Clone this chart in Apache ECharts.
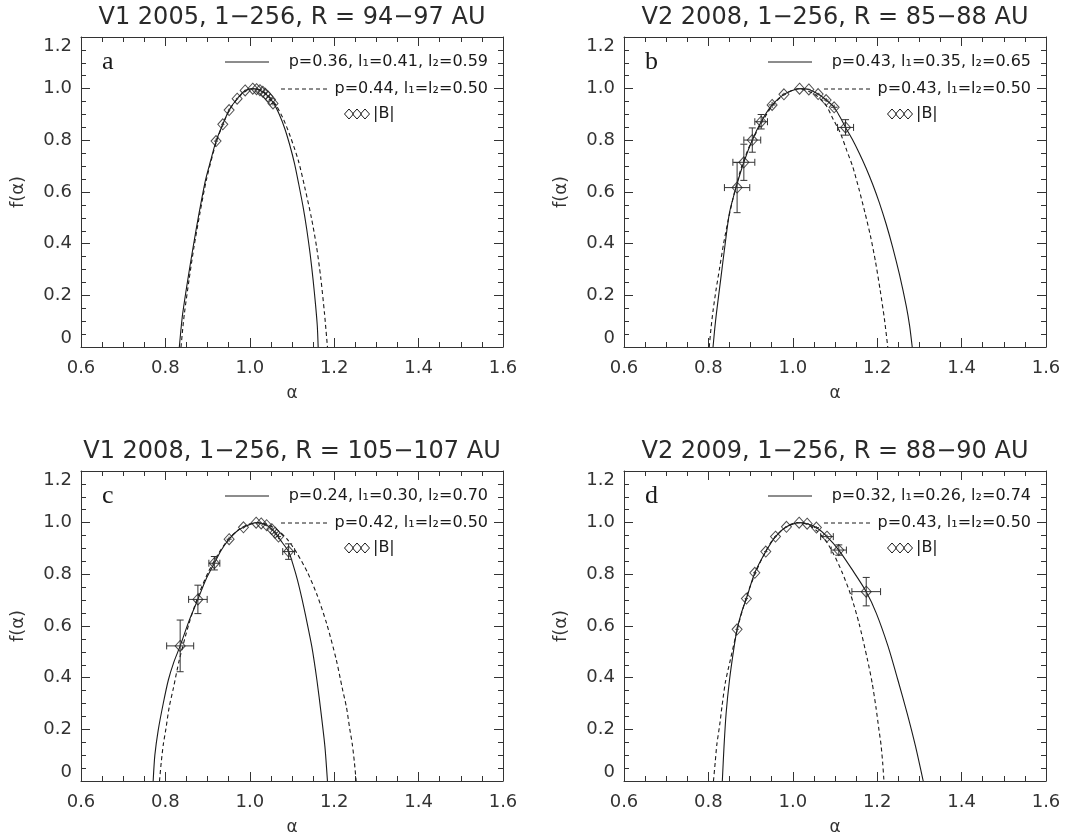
<!DOCTYPE html>
<html><head><meta charset="utf-8">
<script src="https://cdn.jsdelivr.net/npm/echarts@6/dist/echarts.min.js"></script>
<style>html,body{margin:0;padding:0;background:#fff}#c{width:1086px;height:840px}</style>
</head><body><div id="c"></div>
<script>
// ---------- text ----------
const titles = ['V1 2005, 1\u2212256, R = 94\u221297 AU', 'V2 2008, 1\u2212256, R = 85\u221288 AU',
                'V1 2008, 1\u2212256, R = 105\u2212107 AU', 'V2 2009, 1\u2212256, R = 88\u221290 AU'];
const letters = ['a', 'b', 'c', 'd'];
const solidLabels = ['p=0.36, l\u2081=0.41, l\u2082=0.59', 'p=0.43, l\u2081=0.35, l\u2082=0.65',
                     'p=0.24, l\u2081=0.30, l\u2082=0.70', 'p=0.32, l\u2081=0.26, l\u2082=0.74'];
const dashedLabels = ['p=0.44, l\u2081=l\u2082=0.50', 'p=0.43, l\u2081=l\u2082=0.50',
                      'p=0.42, l\u2081=l\u2082=0.50', 'p=0.43, l\u2081=l\u2082=0.50'];
const dataLabel = '|B|';
const xTickLabels = ['0.6', '0.8', '1.0', '1.2', '1.4', '1.6'];
const yTickLabels = ['0', '0.2', '0.4', '0.6', '0.8', '1.0', '1.2'];

// ---------- model curves [alpha, f(alpha)] ----------
const aSolid = [[0.833,0],[0.837,0.07],[0.841,0.13],[0.853,0.26],[0.866,0.39],[0.880,0.52],[0.895,0.646],[0.907,0.72],[0.920,0.797],[0.936,0.862],[0.951,0.917],[0.970,0.961],[0.989,0.993],[1.007,1.0],[1.024,0.994],[1.040,0.976],[1.056,0.945],[1.070,0.90],[1.083,0.845],[1.095,0.78],[1.106,0.71],[1.116,0.63],[1.126,0.545],[1.135,0.455],[1.143,0.36],[1.150,0.26],[1.156,0.16],[1.160,0.08],[1.162,0]];
const aDashed = [[0.837,0],[0.841,0.07],[0.845,0.13],[0.856,0.26],[0.868,0.39],[0.882,0.52],[0.897,0.646],[0.920,0.79],[0.941,0.881],[0.958,0.934],[0.976,0.971],[0.993,0.993],[1.010,1.0],[1.028,0.993],[1.045,0.971],[1.063,0.934],[1.080,0.881],[1.096,0.815],[1.115,0.722],[1.130,0.62],[1.146,0.50],[1.158,0.39],[1.168,0.27],[1.177,0.13],[1.184,0]];
const bSolid = [[0.811,0],[0.815,0.07],[0.819,0.13],[0.829,0.26],[0.839,0.39],[0.850,0.52],[0.866,0.62],[0.884,0.715],[0.904,0.801],[0.925,0.872],[0.951,0.937],[0.979,0.978],[1.016,1.0],[1.038,0.997],[1.060,0.979],[1.079,0.956],[1.098,0.928],[1.112,0.89],[1.125,0.85],[1.141,0.804],[1.157,0.752],[1.173,0.695],[1.189,0.631],[1.205,0.559],[1.221,0.477],[1.237,0.384],[1.253,0.279],[1.269,0.157],[1.277,0.08],[1.283,0]];
const bDashed = [[0.802,0],[0.806,0.07],[0.811,0.14],[0.818,0.22],[0.826,0.3],[0.836,0.4],[0.848,0.5],[0.862,0.6],[0.879,0.7],[0.898,0.78],[0.925,0.865],[0.952,0.935],[0.980,0.978],[1.015,1.0],[1.050,0.98],[1.077,0.94],[1.096,0.881],[1.113,0.827],[1.128,0.76],[1.142,0.698],[1.157,0.61],[1.171,0.52],[1.184,0.43],[1.196,0.33],[1.207,0.22],[1.217,0.11],[1.225,0]];
const cSolid = [[0.771,0],[0.775,0.10],[0.783,0.197],[0.795,0.301],[0.807,0.391],[0.820,0.46],[0.835,0.523],[0.856,0.62],[0.877,0.703],[0.896,0.78],[0.916,0.843],[0.933,0.895],[0.951,0.936],[0.968,0.965],[0.985,0.982],[1.015,1.0],[1.040,0.99],[1.060,0.961],[1.076,0.925],[1.092,0.888],[1.103,0.835],[1.113,0.778],[1.123,0.71],[1.132,0.642],[1.147,0.52],[1.159,0.391],[1.169,0.262],[1.178,0.133],[1.184,0]];
const cDashed = [[0.786,0],[0.790,0.07],[0.795,0.141],[0.801,0.20],[0.809,0.286],[0.819,0.36],[0.833,0.469],[0.856,0.61],[0.879,0.722],[0.902,0.81],[0.926,0.881],[0.949,0.935],[0.972,0.971],[0.995,0.993],[1.019,1.0],[1.042,0.993],[1.066,0.971],[1.089,0.935],[1.112,0.881],[1.136,0.81],[1.159,0.722],[1.182,0.61],[1.205,0.469],[1.219,0.36],[1.229,0.286],[1.237,0.20],[1.243,0.141],[1.248,0.07],[1.252,0]];
const dSolid = [[0.833,0],[0.837,0.133],[0.842,0.262],[0.850,0.391],[0.861,0.52],[0.868,0.587],[0.878,0.65],[0.890,0.706],[0.910,0.806],[0.936,0.888],[0.959,0.946],[0.985,0.984],[1.015,1.0],[1.034,0.996],[1.056,0.981],[1.081,0.946],[1.109,0.894],[1.140,0.82],[1.174,0.733],[1.198,0.649],[1.226,0.52],[1.249,0.391],[1.271,0.262],[1.291,0.133],[1.309,0]];
const dDashed = [[0.812,0],[0.816,0.07],[0.820,0.141],[0.827,0.22],[0.832,0.286],[0.840,0.38],[0.852,0.469],[0.872,0.61],[0.892,0.722],[0.913,0.811],[0.933,0.881],[0.953,0.935],[0.974,0.971],[0.994,0.993],[1.014,1.0],[1.035,0.993],[1.055,0.971],[1.076,0.935],[1.096,0.881],[1.116,0.811],[1.137,0.722],[1.157,0.61],[1.177,0.469],[1.188,0.38],[1.197,0.286],[1.204,0.2],[1.209,0.141],[1.213,0.07],[1.216,0]];

// ---------- |B| data: alpha, f, error in alpha, error in f ----------
const aAlpha = [0.920,0.936,0.951,0.970,0.989,1.007,1.016,1.024,1.031,1.037,1.043,1.049,1.055];
const aF     = [0.797,0.862,0.917,0.961,0.993,1.000,0.998,0.994,0.988,0.980,0.970,0.958,0.943];
const aErrA  = [0.005,0.004,0.003,0.003,0.002,0.002,0.002,0.002,0.003,0.003,0.003,0.004,0.005];
const aErrF  = [0.010,0.008,0.006,0.004,0.003,0.002,0.002,0.002,0.003,0.004,0.005,0.006,0.008];
const bAlpha = [0.868,0.884,0.904,0.925,0.951,0.979,1.016,1.038,1.060,1.079,1.098,1.125];
const bF     = [0.617,0.715,0.801,0.872,0.937,0.978,1.000,0.997,0.979,0.956,0.928,0.850];
const bErrA  = [0.030,0.026,0.020,0.015,0.008,0.005,0.003,0.004,0.005,0.006,0.008,0.019];
const bErrF  = [0.097,0.070,0.047,0.028,0.012,0.006,0.002,0.003,0.005,0.008,0.010,0.030];
const cAlpha = [0.835,0.877,0.916,0.951,0.985,1.015,1.027,1.040,1.052,1.060,1.068,1.092];
const cF     = [0.523,0.703,0.843,0.936,0.982,1.000,0.997,0.990,0.975,0.961,0.946,0.888];
const cErrA  = [0.032,0.022,0.013,0.006,0.004,0.003,0.003,0.004,0.005,0.005,0.006,0.014];
const cErrF  = [0.100,0.055,0.026,0.010,0.005,0.002,0.003,0.004,0.006,0.008,0.010,0.030];
const dAlpha = [0.868,0.890,0.910,0.936,0.959,0.985,1.015,1.034,1.056,1.081,1.109,1.174];
const dF     = [0.587,0.706,0.806,0.888,0.946,0.984,1.000,0.996,0.981,0.946,0.894,0.733];
const dErrA  = [0.004,0.004,0.004,0.004,0.003,0.003,0.003,0.004,0.006,0.015,0.018,0.034];
const dErrF  = [0.010,0.008,0.006,0.005,0.004,0.003,0.002,0.003,0.005,0.008,0.020,0.055];

// ---------- assembly ----------
const curves = [[aSolid,aDashed],[bSolid,bDashed],[cSolid,cDashed],[dSolid,dDashed]];
const points = [[aAlpha,aF,aErrA,aErrF],[bAlpha,bF,bErrA,bErrF],[cAlpha,cF,cErrA,cErrF],[dAlpha,dF,dErrA,dErrF]];

const W = 422, H = 310;
const grids = [{left:81,top:37},{left:624,top:37},{left:81,top:471},{left:624,top:471}];
const INK = '#1a1a1a', AX = '#333';
const FONT = 'DejaVu Sans';

const chart = echarts.init(document.getElementById('c'), null, {renderer:'canvas'});

const option = {
  backgroundColor:'#fff',
  animation:false,
  title:[], grid:[], xAxis:[], yAxis:[], series:[], graphic:[]
};

function fmtX(v){ const i = Math.round((v-0.6)/0.2); return xTickLabels[i] ?? ''; }
function fmtY(v){ const i = Math.round(v/0.2); return yTickLabels[i] ?? ''; }

function errItem(params, api){
  const a=api.value(0), f=api.value(1), da=api.value(2), df=api.value(3);
  const L=api.coord([a-da,f]), R=api.coord([a+da,f]), T=api.coord([a,f+df]), B=api.coord([a,f-df]);
  const st={stroke:'#333', lineWidth:1};
  const cap=3.5, ch=[];
  ch.push({type:'line', shape:{x1:L[0],y1:L[1],x2:R[0],y2:R[1]}, style:st});
  ch.push({type:'line', shape:{x1:T[0],y1:T[1],x2:B[0],y2:B[1]}, style:st});
  if (R[0]-L[0] > 8){
    ch.push({type:'line', shape:{x1:L[0],y1:L[1]-cap,x2:L[0],y2:L[1]+cap}, style:st});
    ch.push({type:'line', shape:{x1:R[0],y1:R[1]-cap,x2:R[0],y2:R[1]+cap}, style:st});
  }
  if (B[1]-T[1] > 8){
    ch.push({type:'line', shape:{x1:T[0]-cap,y1:T[1],x2:T[0]+cap,y2:T[1]}, style:st});
    ch.push({type:'line', shape:{x1:B[0]-cap,y1:B[1],x2:B[0]+cap,y2:B[1]}, style:st});
  }
  return {type:'group', children:ch};
}

grids.forEach((g,i)=>{
  option.grid.push({left:g.left, top:g.top, width:W, height:H, containLabel:false});
  const common = {
    type:'value', gridIndex:i, min:0.6, max:1.6, interval:0.2,
    splitLine:{show:false},
    axisLine:{show:true, onZero:false, lineStyle:{color:AX, width:1}},
    axisTick:{show:true, inside:true, length:9, lineStyle:{color:AX}},
    minorTick:{show:true, splitNumber:4, length:5, lineStyle:{color:AX}},
  };
  option.xAxis.push(Object.assign({}, common, {
    position:'bottom',
    axisLabel:{show:true, formatter:fmtX, fontFamily:FONT, fontSize:18, color:AX, margin:12},
    name:'\u03b1', nameLocation:'middle', nameGap:38,
    nameTextStyle:{fontFamily:FONT, fontSize:17, color:AX}
  }));
  option.xAxis.push(Object.assign({}, common, {position:'top', axisLabel:{show:false}}));
  const ycommon = {
    type:'value', gridIndex:i, min:0, max:1.2, interval:0.2,
    splitLine:{show:false},
    axisLine:{show:true, onZero:false, lineStyle:{color:AX, width:1}},
    axisTick:{show:true, inside:true, length:9, lineStyle:{color:AX}},
    minorTick:{show:true, splitNumber:4, length:5, lineStyle:{color:AX}},
  };
  option.yAxis.push(Object.assign({}, ycommon, {
    position:'left',
    axisLabel:{show:true, formatter:fmtY, fontFamily:FONT, fontSize:18, color:AX, margin:9,
               verticalAlignMaxLabel:'top', verticalAlignMinLabel:'bottom'},
    name:'f(\u03b1)', nameLocation:'middle', nameGap:54, nameRotate:90,
    nameTextStyle:{fontFamily:FONT, fontSize:18, color:AX}
  }));
  option.yAxis.push(Object.assign({}, ycommon, {position:'right', axisLabel:{show:false}}));

  option.title.push({
    text:titles[i], left:g.left+W/2-5, top:g.top-36, textAlign:'center',
    textStyle:{fontFamily:FONT, fontSize:24, fontWeight:'normal', color:'#2a2a2a'}
  });

  const xi = i*2, yi = i*2;
  option.series.push({type:'line', xAxisIndex:xi, yAxisIndex:yi, data:curves[i][0], showSymbol:false,
    smooth:0.25, lineStyle:{color:INK, width:1.1, type:'solid'}, z:2});
  option.series.push({type:'line', xAxisIndex:xi, yAxisIndex:yi, data:curves[i][1], showSymbol:false,
    smooth:0.25, lineStyle:{color:INK, width:1.1, type:[4,3]}, z:2});
  const [pa,pf,ea,ef] = points[i];
  option.series.push({type:'custom', xAxisIndex:xi, yAxisIndex:yi, renderItem:errItem,
    data:pa.map((a,k)=>[a,pf[k],ea[k],ef[k]]), z:3});
  option.series.push({type:'scatter', xAxisIndex:xi, yAxisIndex:yi, data:pa.map((a,k)=>[a,pf[k]]),
    symbol:'diamond', symbolSize:[10,11],
    itemStyle:{color:'rgba(255,255,255,0)', borderColor:'#222', borderWidth:1}, z:4});

  // letter
  option.graphic.push({type:'text', left:g.left+21, top:g.top+12,
    style:{text:letters[i], font:'26px "Liberation Serif"', fill:INK}});
  // legend
  const L = g.left, T = g.top, rx = L+407;
  const lf = '16px "DejaVu Sans"';
  option.graphic.push({type:'line', shape:{x1:L+144,y1:T+25,x2:L+188,y2:T+25}, style:{stroke:INK,lineWidth:1}});
  option.graphic.push({type:'text', x:rx, y:T+25, style:{text:solidLabels[i], font:lf, fill:INK, textAlign:'right', textVerticalAlign:'middle'}});
  option.graphic.push({type:'line', shape:{x1:L+200,y1:T+52,x2:L+249,y2:T+52}, style:{stroke:INK,lineWidth:1,lineDash:[4,3]}});
  option.graphic.push({type:'text', x:rx, y:T+52, style:{text:dashedLabels[i], font:lf, fill:INK, textAlign:'right', textVerticalAlign:'middle'}});
  [268,276,284].forEach(cx=>{
    option.graphic.push({type:'polygon', shape:{points:[[L+cx-4.5,T+77],[L+cx,T+72],[L+cx+4.5,T+77],[L+cx,T+82]]},
      style:{fill:'none', stroke:INK, lineWidth:1}});
  });
  option.graphic.push({type:'text', x:L+292, y:T+77, style:{text:dataLabel, font:lf, fill:INK, textAlign:'left', textVerticalAlign:'middle'}});
});

chart.setOption(option);
</script></body></html>
